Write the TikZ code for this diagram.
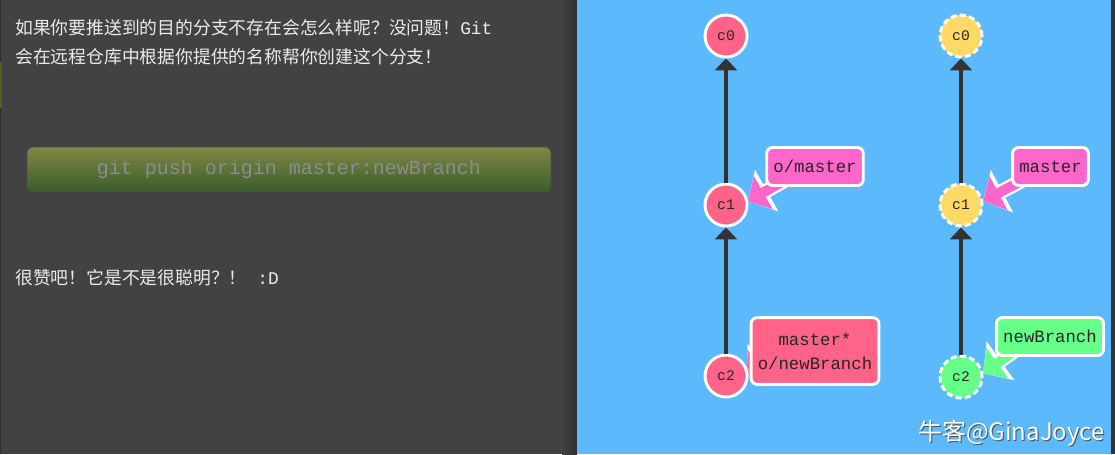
\documentclass[tikz,border=0pt]{standalone}
\usepackage{fontspec}
\usetikzlibrary{arrows.meta,calc}
\newfontfamily\cjk{Noto Sans CJK SC}
\newfontfamily\mono{Liberation Mono}
\definecolor{panelgray}{HTML}{424242}
\definecolor{panelshade}{HTML}{2F2F2F}
\definecolor{skyblue}{HTML}{5CBAFC}
\definecolor{commitpink}{HTML}{FF6388}
\definecolor{branchpink}{HTML}{FF66CC}
\definecolor{commitgold}{HTML}{FFD966}
\definecolor{commitgreen}{HTML}{66FF88}
\definecolor{btntop}{HTML}{808745}
\definecolor{btnbottom}{HTML}{3A5E2A}
\definecolor{edgegray}{HTML}{333333}
\definecolor{edgeolive}{HTML}{5B5B1E}
\pgfdeclarelayer{back}
\pgfdeclarelayer{ptrs}
\pgfsetlayers{back,ptrs,main}

\begin{document}
\begin{tikzpicture}[x=0.75pt,y=-0.75pt]
  % styles
  \tikzstyle{txt}=[inner sep=0pt,anchor=base west,text=white!92!black,
                   font=\cjk\fontsize{13.35pt}{16pt}\selectfont]
  \tikzstyle{btn}=[rectangle,rounded corners=4.5pt,draw=black!70,line width=0.4pt,
                   top color=btntop,bottom color=btnbottom,minimum width=393pt,
                   minimum height=33.5pt,text=black!45,font=\mono\fontsize{15pt}{18pt}\selectfont]
  \tikzstyle{commit}=[circle,draw=white,line width=2.2pt,minimum size=31.5pt,inner sep=0pt,
                      text=black!85,font=\mono\fontsize{11pt}{12pt}\selectfont]
  \tikzstyle{ghost}=[commit,dash pattern=on 4.5pt off 2.5pt]
  \tikzstyle{branch}=[rectangle,rounded corners=4.5pt,draw=white,line width=2.2pt,inner xsep=5pt,
                      minimum height=28.5pt,align=center,text=black!85,
                      font=\mono\fontsize{13pt}{18pt}\selectfont]
  \tikzstyle{edge}=[draw=edgegray,line width=2.4pt,-{Triangle[width=16.5pt,length=9pt]}]
  \tikzstyle{ptr}=[line width=7.5pt,-{Triangle[width=28pt,length=13pt]},
                   preaction={draw=white,line width=11pt,-{Triangle[width=35pt,length=16pt]}}]

  \useasboundingbox (0,0) rectangle (1115,454);

  % panels
  \begin{pgfonlayer}{back}
    \fill[panelgray] (0,0) rectangle (577,454);
    \shade[left color=panelgray,right color=panelshade] (562,0) rectangle (577,454);
    \fill[panelshade] (0,0) rectangle (1.5,454);
    \fill[edgeolive] (0,62) rectangle (2,108);
    \fill[skyblue] (577,0) rectangle (1111,454);
    \fill[edgegray] (1111,0) rectangle (1115,454);
  \end{pgfonlayer}

  % text
  \node[txt] (intro1) at (15,34) {如果你要推送到的目的分支不存在会怎么样呢？没问题！{\mono Git}};
  \node[txt] (intro2) at (15,63) {会在远程仓库中根据你提供的名称帮你创建这个分支！};
  \node[btn] (cmd) at (289,169.5) {git push origin master:newBranch};
  \node[txt] (outro) at (15,284) {很赞吧！它是不是很聪明？！{\mono\ :D}};

  % commits
  \node[commit,fill=commitpink] (lc0) at (726,36)  {c0};
  \node[commit,fill=commitpink] (lc1) at (726,205) {c1};
  \node[commit,fill=commitpink] (lc2) at (726,376) {c2};
  \node[ghost,fill=commitgold]  (rc0) at (961,36)  {c0};
  \node[ghost,fill=commitgold]  (rc1) at (961,205) {c1};
  \node[ghost,fill=commitgreen] (rc2) at (961,377) {c2};

  % branches
  \node[branch,fill=branchpink] (lomaster) at (815,166.5) {o/master};
  \node[branch,fill=commitpink,minimum height=50pt] (lmaster) at (815,351) {master*\\o/newBranch};
  \node[branch,fill=branchpink] (rmaster) at (1050.5,166.5) {master};
  \node[branch,fill=commitgreen] (rnew) at (1050,336.5) {newBranch};

  % arrows
  \draw[edge] (lc1) -- (lc0);
  \draw[edge] (lc2) -- (lc1);
  \draw[edge] (rc1) -- (rc0);
  \draw[edge] (rc2) -- (rc1);

  % branch pointers
  \begin{pgfonlayer}{ptrs}
    \draw[ptr,draw=branchpink]  ($(lomaster.south west)+(22,-8)$) -- (lc1.10);
    \draw[ptr,draw=commitpink]  ($(lmaster.west)+(28,-3)$) -- (lc2.east);
    \draw[ptr,draw=branchpink]  ($(rmaster.south west)+(14,-8)$) -- (rc1.10);
    \draw[ptr,draw=commitgreen] ($(rnew.south west)+(22,-8)$) -- (rc2.10);
  \end{pgfonlayer}

  % watermark
  \node[font=\cjk\fontsize{18pt}{20pt}\selectfont,text=black!70,anchor=base east,inner sep=0pt]
       (wmshadow) at (1106,441) {牛客@GinaJoyce};
  \node[font=\cjk\fontsize{18pt}{20pt}\selectfont,text=white,anchor=base east,inner sep=0pt]
       (wm) at (1105,440) {牛客@GinaJoyce};
\end{tikzpicture}
\end{document}
